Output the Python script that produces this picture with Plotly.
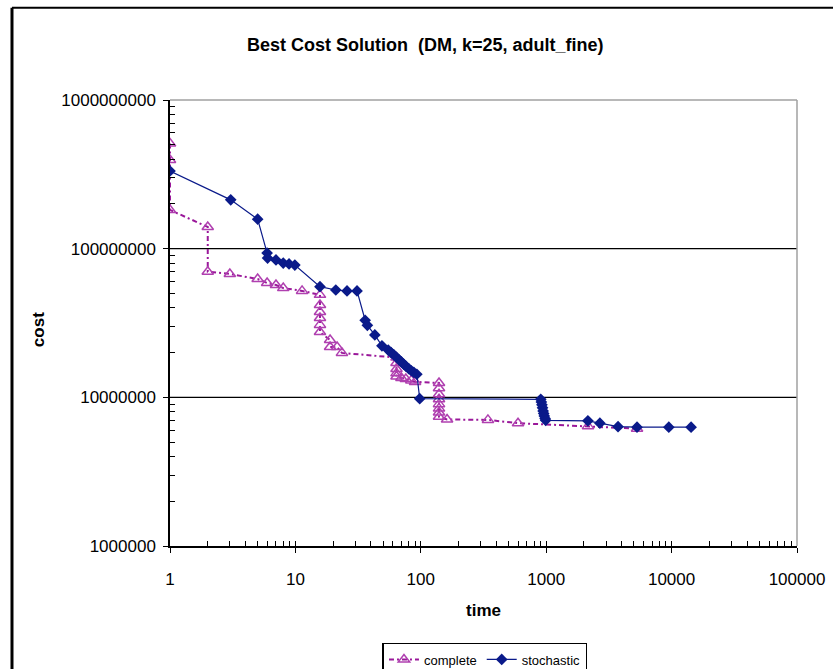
import plotly.graph_objects as go

# ---- data ----
complete_time = [1, 1, 1, 2.0, 2.0, 3.0, 5.0, 5.95, 7.0, 8.0, 11.3,
                 15.7, 15.7, 15.7, 15.7, 15.7, 15.7, 18.9, 18.9, 21.5, 23.5,
                 64, 64, 64, 64, 64, 70, 76, 84, 90,
                 139.7, 139.7, 139.7, 139.7, 139.7, 139.7, 139.7, 139.7,
                 162, 343, 596, 2155, 5300]
complete_cost = [5.1e8, 3.95e8, 1.82e8, 1.4e8, 7.0e7, 6.76e7, 6.25e7, 5.88e7, 5.7e7, 5.43e7, 5.2e7,
                 4.89e7, 4.18e7, 3.75e7, 3.42e7, 3.07e7, 2.75e7, 2.43e7, 2.18e7, 2.18e7, 1.99e7,
                 1.85e7, 1.7e7, 1.55e7, 1.45e7, 1.38e7, 1.35e7, 1.33e7, 1.3e7, 1.27e7,
                 1.25e7, 1.15e7, 1.05e7, 9.7e6, 9.0e6, 8.4e6, 7.9e6, 7.4e6,
                 7.1e6, 7.05e6, 6.7e6, 6.4e6, 6.15e6]

stochastic_time = [1, 3.05, 5.0, 5.95, 6.0, 7.0, 8.0, 8.9, 9.9, 15.7, 21, 25.8, 31, 36, 37.5, 43, 49,
                   55, 58, 61, 64, 67, 70, 73, 76, 80, 84, 88, 93, 98,
                   905, 915, 925, 935, 945, 955, 965, 980, 990,
                   2150, 2680, 3740, 5300, 9500, 14300]
stochastic_cost = [3.33e8, 2.13e8, 1.58e8, 9.35e7, 8.65e7, 8.4e7, 8.0e7, 7.9e7, 7.75e7, 5.55e7, 5.27e7, 5.2e7, 5.2e7, 3.3e7, 3.05e7, 2.63e7, 2.22e7,
                   2.08e7, 2.0e7, 1.93e7, 1.86e7, 1.79e7, 1.73e7, 1.67e7, 1.62e7, 1.56e7, 1.51e7, 1.47e7, 1.43e7, 9.8e6,
                   9.7e6, 9.3e6, 8.9e6, 8.5e6, 8.1e6, 7.8e6, 7.5e6, 7.2e6, 7.0e6,
                   6.95e6, 6.7e6, 6.35e6, 6.3e6, 6.3e6, 6.3e6]

x_major = [1, 10, 100, 1000, 10000, 100000]
x_labels = ["1", "10", "100", "1000", "10000", "100000"]
y_major = [1e6, 1e7, 1e8, 1e9]
y_labels = ["1000000", "10000000", "100000000", "1000000000"]

x_minor = [m * 10 ** d for d in range(0, 5) for m in range(2, 10)]
y_minor = [m * 10 ** d for d in range(6, 9) for m in range(2, 10)]

FONT = "Liberation Sans, Arial, sans-serif"

fig = go.Figure()
fig.add_trace(go.Scatter(
    x=complete_time, y=complete_cost, name="complete", mode="lines+markers",
    line=dict(color="#9A189A", width=2, dash="5px,3px,2px,3px"),
    marker=dict(symbol="triangle-up-open", size=10, color="#B040B0", line=dict(width=1.5, color="#B040B0")),
))
fig.add_trace(go.Scatter(
    x=stochastic_time, y=stochastic_cost, name="stochastic", mode="lines+markers",
    line=dict(color="#0A1A8A", width=1.2),
    marker=dict(symbol="diamond", size=9, color="#0A1A8A"),
))
# invisible helper trace for the overlay axes (inside tick marks at majors)
fig.add_trace(go.Scatter(x=[1], y=[1e6], xaxis="x2", yaxis="y2", mode="markers",
                         marker=dict(opacity=0), showlegend=False, hoverinfo="skip"))

fig.update_layout(
    width=833, height=669,
    margin=dict(l=170, r=36, t=100, b=123, autoexpand=False),
    paper_bgcolor="white", plot_bgcolor="white",
    font=dict(family=FONT, color="black", size=17),
    showlegend=True,
    legend=dict(orientation="h", xref="container", yref="container",
                x=0.5822, xanchor="center", y=0.0389, yanchor="top",
                bordercolor="black", borderwidth=1.5, font=dict(size=13, family=FONT),
                bgcolor="white", tracegroupgap=0),
    xaxis=dict(type="log", range=[0, 5], showgrid=False, zeroline=False, automargin=False,
               showline=True, linecolor="black", linewidth=1.5,
               tickmode="array", tickvals=x_major, ticktext=x_labels,
               ticks="outside", ticklen=5, tickcolor="black", tickwidth=1.2,
               ticklabelstandoff=12,
               minor=dict(tickmode="array", tickvals=x_minor, ticks="inside", ticklen=5,
                          tickcolor="black", tickwidth=1, showgrid=False)),
    yaxis=dict(type="log", range=[6, 9], showgrid=False, zeroline=False, automargin=False,
               showline=True, linecolor="black", linewidth=1.5,
               tickmode="array", tickvals=y_major, ticktext=y_labels,
               ticks="outside", ticklen=5, tickcolor="black", tickwidth=1.2,
               ticklabelstandoff=4,
               minor=dict(tickmode="array", tickvals=y_minor, ticks="inside", ticklen=5,
                          tickcolor="black", tickwidth=1, showgrid=False)),
    xaxis2=dict(type="log", range=[0, 5], overlaying="x", anchor="y2", side="bottom",
                showgrid=False, zeroline=False, showline=False, showticklabels=False,
                tickmode="array", tickvals=x_major, ticks="inside", ticklen=5,
                tickcolor="black", tickwidth=1.2),
    yaxis2=dict(type="log", range=[6, 9], overlaying="y", anchor="x2", side="left",
                showgrid=False, zeroline=False, showline=False, showticklabels=False,
                tickmode="array", tickvals=y_major, ticks="inside", ticklen=5,
                tickcolor="black", tickwidth=1.2),
)

shapes = [
    # horizontal gridlines at 1e7 and 1e8
    dict(type="line", xref="paper", yref="paper", x0=0, x1=1, y0=1/3, y1=1/3,
         line=dict(color="black", width=1.3), layer="below"),
    dict(type="line", xref="paper", yref="paper", x0=0, x1=1, y0=2/3, y1=2/3,
         line=dict(color="black", width=1.3), layer="below"),
    # grey top / right plot border
    dict(type="line", xref="paper", yref="paper", x0=0, x1=1, y0=1, y1=1,
         line=dict(color="#A0A0A0", width=1.5)),
    dict(type="line", xref="paper", yref="paper", x0=1, x1=1, y0=0, y1=1,
         line=dict(color="#A0A0A0", width=1.5)),
    # outer frame (left & top)
    dict(type="line", xref="paper", yref="paper", x0=-0.252, x1=-0.252, y0=-0.28, y1=1.207,
         line=dict(color="black", width=3)),
    dict(type="line", xref="paper", yref="paper", x0=-0.252, x1=1.06, y0=1.207, y1=1.207,
         line=dict(color="black", width=2)),
]
fig.update_layout(shapes=shapes)

fig.add_annotation(text="Best Cost Solution  (DM, k=25, adult_fine)", xref="paper", yref="paper",
                   x=0.4067, y=1.1233, xanchor="center", yanchor="middle", showarrow=False,
                   font=dict(size=18, family=FONT, color="black", weight="bold"))
fig.add_annotation(text="cost", xref="paper", yref="paper", x=-0.2105, y=0.484,
                   xanchor="center", yanchor="middle", textangle=-90, showarrow=False,
                   font=dict(size=17, family=FONT, color="black", weight="bold"))
fig.add_annotation(text="time", xref="paper", yref="paper", x=0.5, y=-0.1435,
                   xanchor="center", yanchor="middle", showarrow=False,
                   font=dict(size=17, family=FONT, color="black", weight="bold"))

fig.write_html("out.html", config={"displayModeBar": False},
               post_script="document.body.style.margin='0px';")
